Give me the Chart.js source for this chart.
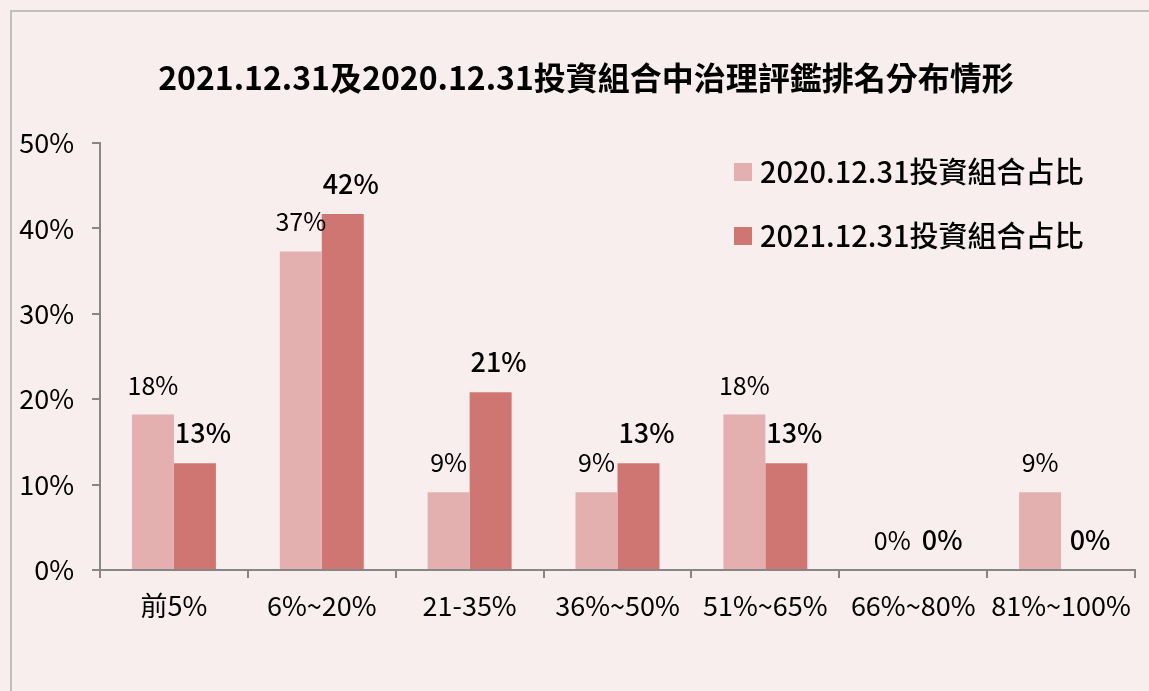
<!DOCTYPE html>
<html>
<head>
<meta charset="utf-8">
<script src="https://cdn.jsdelivr.net/npm/chart.js@4.4.0/dist/chart.umd.min.js"></script>
<style>
  html, body { margin: 0; padding: 0; background: #F9EEEE; }
  #wrap { position: relative; width: 1149px; height: 691px; }
</style>
</head>
<body>
<div id="wrap"><canvas id="chart1"></canvas></div>
<script>
// data
const categories = ['前5%', '6%~20%', '21-35%', '36%~50%', '51%~65%', '66%~80%', '81%~100%'];
const share2020 = [18.2, 37.3, 9.1, 9.1, 18.2, 0, 9.1];
const share2021 = [12.5, 41.7, 20.8, 12.5, 12.5, 0, 0];
const seriesNames = ['2020.12.31投資組合占比', '2021.12.31投資組合占比'];
const titleText = '2021.12.31及2020.12.31投資組合中治理評鑑排名分布情形';

const FONT = '"Noto Sans CJK TC", "Noto Sans", sans-serif';
const colors = ['#E4B0AF', '#CF7673'];

// background + frame + title (title sits a bit right of the plot centre)
const frame = {
    id: 'frame',
    beforeDraw(chart) {
        const ctx = chart.ctx;
        ctx.save();
        ctx.fillStyle = '#F9EEEE';
        ctx.fillRect(0, 0, chart.width, chart.height);
        ctx.strokeStyle = '#BFBFBF';
        ctx.lineWidth = 2;
        ctx.beginPath();
        ctx.moveTo(11, chart.height);
        ctx.lineTo(11, 11);
        ctx.lineTo(chart.width, 11);
        ctx.stroke();
        ctx.fillStyle = '#000';
        ctx.font = 'bold 32px ' + FONT;
        ctx.textAlign = 'center';
        ctx.textBaseline = 'middle';
        ctx.fillText(titleText, 586, 78);
        ctx.restore();
    }
};

// value labels above the bars
const barLabels = {
    id: 'barLabels',
    afterDatasetsDraw(chart) {
        const ctx = chart.ctx;
        ctx.save();
        ctx.fillStyle = '#000';
        ctx.textAlign = 'center';
        ctx.textBaseline = 'alphabetic';
        chart.data.datasets.forEach(function(ds, di) {
            const meta = chart.getDatasetMeta(di);
            ctx.font = (di === 0 ? '400 25px ' : '500 27px ') + FONT;
            meta.data.forEach(function(bar, i) {
                const shift = di === 0 ? 0 : 8;
                ctx.fillText(Math.round(ds.data[i]) + '%', bar.x + shift, bar.y - 20);
            });
        });
        ctx.restore();
    }
};

// legend inside the plot, top right
const sideLegend = {
    id: 'sideLegend',
    afterDraw(chart) {
        const ctx = chart.ctx;
        ctx.save();
        ctx.font = '500 29px ' + FONT;
        ctx.textBaseline = 'middle';
        ctx.textAlign = 'left';
        chart.data.datasets.forEach(function(ds, di) {
            const y = 172 + di * 64;
            ctx.fillStyle = ds.backgroundColor;
            ctx.fillRect(734, y - 9, 18, 18);
            ctx.fillStyle = '#000';
            ctx.fillText(ds.label, 760, y);
        });
        ctx.restore();
    }
};

new Chart('chart1', {
    type: 'bar',
    data: {
        labels: categories,
        datasets: [{
            label: seriesNames[0],
            data: share2020,
            backgroundColor: colors[0],
            categoryPercentage: 0.568,
            barPercentage: 1
        }, {
            label: seriesNames[1],
            data: share2021,
            backgroundColor: colors[1],
            categoryPercentage: 0.568,
            barPercentage: 1
        }]
    },
    options: {
        responsive: true,
        maintainAspectRatio: false,
        animation: false,
        layout: {
            padding: { left: 10, right: 14, top: 143, bottom: 0 }
        },
        plugins: {
            legend: { display: false },
            tooltip: { enabled: false },
            title: { display: false }
        },
        scales: {
            x: {
                afterFit: function(scale) { scale.height = 121; },
                grid: {
                    offset: true,
                    drawOnChartArea: false,
                    tickLength: 8,
                    color: '#868686',
                    lineWidth: 2
                },
                border: { color: '#868686', width: 2 },
                ticks: {
                    color: '#000',
                    padding: 12,
                    font: { family: FONT, size: 27 }
                }
            },
            y: {
                min: 0,
                max: 50,
                afterFit: function(scale) { scale.width = 90; },
                grid: {
                    drawOnChartArea: false,
                    tickLength: 8,
                    color: '#868686',
                    lineWidth: 2
                },
                border: { color: '#868686', width: 2 },
                ticks: {
                    stepSize: 10,
                    color: '#000',
                    padding: 18,
                    font: { family: FONT, size: 27 },
                    callback: function(v) { return v + '%'; }
                }
            }
        }
    },
    plugins: [frame, barLabels, sideLegend]
});
</script>
</body>
</html>
